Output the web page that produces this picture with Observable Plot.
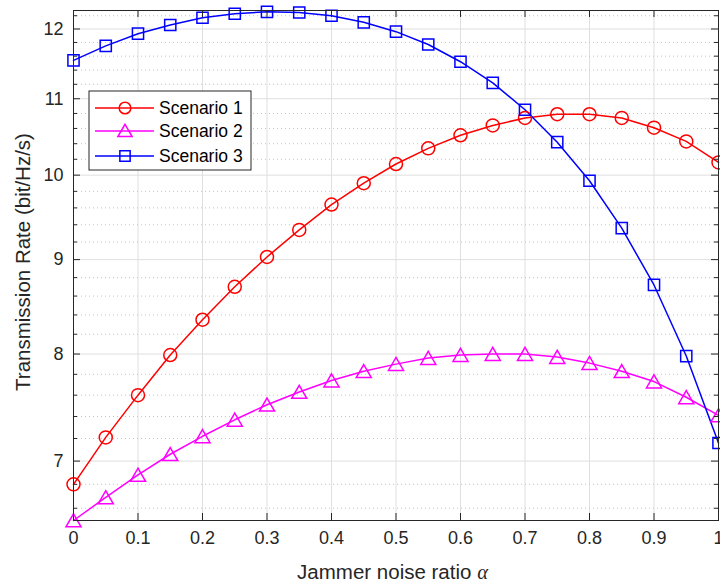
<!DOCTYPE html>
<html>
<head>
<meta charset="utf-8">
<script src="https://cdn.jsdelivr.net/npm/d3@7"></script>
<script src="https://cdn.jsdelivr.net/npm/@observablehq/plot@0.6"></script>
<style>
  html, body { margin: 0; padding: 0; background: white; }
  #chart { width: 720px; height: 585px; overflow: hidden; }
</style>
</head>
<body>
<div id="chart"></div>
<script>
// ---- Data ----
const alpha = [0, 0.05, 0.1, 0.15, 0.2, 0.25, 0.3, 0.35, 0.4, 0.45, 0.5, 0.55, 0.6, 0.65, 0.7, 0.75, 0.8, 0.85, 0.9, 0.95, 1];
const scenario1 = [6.80, 7.21, 7.60, 7.99, 8.35, 8.70, 9.03, 9.34, 9.64, 9.90, 10.14, 10.34, 10.51, 10.64, 10.74, 10.79, 10.79, 10.74, 10.61, 10.43, 10.16];
const scenario2 = [6.50, 6.69, 6.88, 7.06, 7.22, 7.37, 7.51, 7.63, 7.74, 7.83, 7.90, 7.96, 7.99, 8.00, 8.00, 7.97, 7.91, 7.83, 7.73, 7.58, 7.41];
const scenario3 = [11.54, 11.75, 11.93, 12.06, 12.17, 12.23, 12.26, 12.25, 12.20, 12.10, 11.96, 11.77, 11.52, 11.22, 10.85, 10.42, 9.93, 9.36, 8.72, 7.98, 7.16];
const seriesNames = ["Scenario 1", "Scenario 2", "Scenario 3"];
const seriesColors = ["#ff0000", "#ff00ff", "#0000ff"];
const seriesSymbols = ["circle", "triangle", "square"];
const xTicks = [0, 0.1, 0.2, 0.3, 0.4, 0.5, 0.6, 0.7, 0.8, 0.9, 1];
const xTickLabels = ["0", "0.1", "0.2", "0.3", "0.4", "0.5", "0.6", "0.7", "0.8", "0.9", "1"];
const yTicks = [7, 8, 9, 10, 11, 12];
const yTickLabels = ["7", "8", "9", "10", "11", "12"];
const yMinorTicks = [6.6, 6.8, 7.2, 7.4, 7.6, 7.8, 8.2, 8.4, 8.6, 8.8, 9.2, 9.4, 9.6, 9.8, 10.2, 10.4, 10.6, 10.8, 11.2, 11.4, 11.6, 11.8, 12.2];
const xLabel = "Jammer noise ratio ";
const xLabelSymbol = "α";
const yLabel = "Transmission Rate (bit/Hz/s)";

const allSeries = [scenario1, scenario2, scenario3];
const rows = allSeries.flatMap((vals, i) => vals.map((v, j) => ({x: alpha[j], y: v, s: seriesNames[i]})));

const W = 720, H = 585;
const mL = 73, mR = 2, mT = 10, mB = 65;
const frameW = W - mL - mR, frameH = H - mT - mB;
const ink = "#262626";
const font = "'Liberation Sans', Arial, Helvetica, sans-serif";
const tickFont = 18, labelFont = 20.5, legendFont = 17.5;
const tickLen = 7, minorLen = 4;

const lineMarks = seriesNames.map((name, i) =>
  Plot.line(rows.filter(d => d.s === name), {x: "x", y: "y", stroke: seriesColors[i], strokeWidth: 1.5})
);
const dotMarks = seriesNames.map((name, i) =>
  Plot.dot(rows.filter(d => d.s === name), {
    x: "x", y: "y", stroke: seriesColors[i], fill: "none", strokeWidth: 1.5,
    symbol: seriesSymbols[i],
    r: seriesSymbols[i] === "circle" ? 6.5 : (seriesSymbols[i] === "square" ? 6.3 : 5.6),
    dy: seriesSymbols[i] === "triangle" ? 2 : 0
  })
);

const chart = Plot.plot({
  width: W, height: H,
  marginLeft: mL, marginRight: mR, marginTop: mT, marginBottom: mB,
  style: {fontFamily: font, fontSize: tickFont + "px", color: ink, background: "white", overflow: "visible"},
  x: {domain: [0, 1], axis: null},
  y: {type: "log", domain: [6.5, 12.28], axis: null},
  marks: [
    Plot.gridX(xTicks, {stroke: "#dfdfdf", strokeOpacity: 1, strokeWidth: 1}),
    Plot.gridY(yMinorTicks, {stroke: "#c4c4c4", strokeOpacity: 1, strokeWidth: 1, strokeDasharray: "1,3"}),
    Plot.gridY(yTicks, {stroke: "#dfdfdf", strokeOpacity: 1, strokeWidth: 1}),
    ...lineMarks,
    ...dotMarks,
    // inward ticks
    Plot.tickY(yTicks, {y: d => d, stroke: ink, insetRight: frameW - tickLen}),
    Plot.tickY(yTicks, {y: d => d, stroke: ink, insetLeft: frameW - tickLen}),
    Plot.tickY(yMinorTicks, {y: d => d, stroke: ink, insetRight: frameW - minorLen}),
    Plot.tickY(yMinorTicks, {y: d => d, stroke: ink, insetLeft: frameW - minorLen}),
    Plot.tickX(xTicks, {x: d => d, stroke: ink, insetTop: frameH - tickLen}),
    Plot.tickX(xTicks, {x: d => d, stroke: ink, insetBottom: frameH - tickLen}),
    // tick labels
    Plot.text(xTicks, {x: d => d, frameAnchor: "bottom", dy: 23.5, text: (d, i) => xTickLabels[i], fill: ink, fontSize: tickFont, fontFamily: font, textAnchor: "middle"}),
    Plot.text(yTicks, {y: d => d, frameAnchor: "left", dx: -10, text: (d, i) => yTickLabels[i], fill: ink, fontSize: tickFont, fontFamily: font, textAnchor: "end"}),
    Plot.frame({stroke: ink, strokeWidth: 1})
  ]
});

document.getElementById("chart").appendChild(chart);

const svg = d3.select(chart);

// Axis labels
const xl = svg.append("text")
  .attr("x", mL + frameW / 2 - 3).attr("y", 579)
  .attr("text-anchor", "middle")
  .attr("fill", ink)
  .style("font-family", font)
  .style("font-size", labelFont + "px");
xl.append("tspan").text(xLabel);
xl.append("tspan").text(xLabelSymbol).style("font-family", "'Liberation Serif', 'DejaVu Serif', serif").style("font-style", "italic");

svg.append("text")
  .attr("transform", `translate(30,262) rotate(-90)`)
  .attr("text-anchor", "middle")
  .attr("fill", ink)
  .style("font-family", font)
  .style("font-size", labelFont + "px")
  .text(yLabel);

// Legend
const lg = svg.append("g").attr("transform", "translate(89,91)");
lg.append("rect").attr("width", 162).attr("height", 79).attr("fill", "white").attr("stroke", ink).attr("stroke-width", 1);
const rowY = [17, 40, 65];
const symbolMap = {circle: d3.symbolCircle, triangle: d3.symbolTriangle, square: d3.symbolSquare};
seriesNames.forEach((name, i) => {
  const g = lg.append("g").attr("transform", `translate(0,${rowY[i]})`);
  g.append("line").attr("x1", 6).attr("x2", 65).attr("y1", 0).attr("y2", 0)
    .attr("stroke", seriesColors[i]).attr("stroke-width", 1.5);
  const sz = seriesSymbols[i] === "triangle" ? Math.PI * 5.3 * 5.3 : Math.PI * 5.8 * 5.8;
  g.append("path").attr("d", d3.symbol(symbolMap[seriesSymbols[i]], sz)())
    .attr("transform", `translate(36,${seriesSymbols[i] === "triangle" ? 1.5 : 0})`)
    .attr("fill", "none").attr("stroke", seriesColors[i]).attr("stroke-width", 1.5);
  g.append("text").attr("x", 70).attr("y", 0).attr("dy", "0.35em")
    .attr("text-anchor", "start")
    .attr("fill", "#000").style("font-family", font).style("font-size", legendFont + "px").text(name);
});
</script>
</body>
</html>
